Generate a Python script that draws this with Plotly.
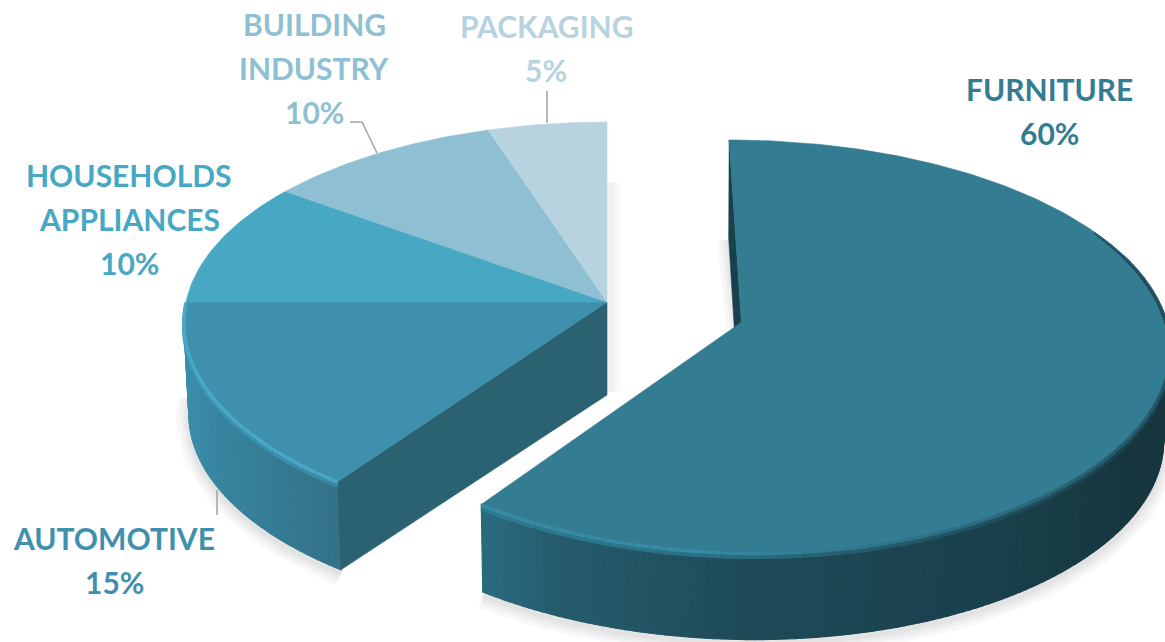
import numpy as np
import plotly.graph_objects as go

CATEGORIES = ["FURNITURE", "AUTOMOTIVE", "HOUSEHOLDS APPLIANCES", "BUILDING INDUSTRY", "PACKAGING"]
VALUES = [60, 15, 10, 10, 5]
TOP_COLORS = ["#337C92", "#3F90AC", "#47A8C4", "#8FBFD2", "#B7D3DF"]
LABEL_LINES = [["FURNITURE"], ["AUTOMOTIVE"], ["HOUSEHOLDS", "APPLIANCES"], ["BUILDING", "INDUSTRY"], ["PACKAGING"]]
PERCENT_TEXT = [f"{v}%" for v in VALUES]

# layout of the projected pie (pixel frame of the figure)
CX, CY, RX, RY, PERSP, PERSP_X = 607, 302, 421, 201, 0.117, 0.10
EXPLODE = [(0.316, -0.10), (0, 0), (0, 0), (0, 0), (0, 0)]
V_SCALE = [0.99, 1, 1, 1, 1]
LABEL_POS = [(1049, [89, 133]), (114, [538, 582]), (129, [175, 219, 263]), (314, [24, 68, 112]), (546, [26, 70])]
LEADERS = [[(217, 490), (217, 515)], [(350, 122), (362, 122), (377, 153)], [(547, 91), (547, 123)]]


def project(u, v, lower=False):
    u, v = np.asarray(u, float), np.asarray(v, float)
    x = CX + RX * u / (1 + PERSP_X * v)
    y = CY - RY * v / (1 + PERSP * v)
    if lower:
        x = x + (CX - x) * 0.012
        y = y + 93 + 6 * v
    return x, y


def rim(i, a0, a1, lower=False, n=None):
    n = n or max(2, int(abs(a1 - a0)) + 2)
    t = np.radians(np.linspace(a0, a1, n))
    return project(np.sin(t) + EXPLODE[i][0], np.cos(t) * V_SCALE[i] + EXPLODE[i][1], lower)


def mix(stops, x):
    xs = [s[0] for s in stops]
    rgb = [[int(s[1][i:i + 2], 16) for s in stops] for i in (1, 3, 5)]
    return "rgb(%d,%d,%d)" % tuple(np.interp(x, xs, c) for c in rgb)


def poly(fig, x, y, color, lw=0.6):
    fig.add_trace(go.Scatter(x=list(x), y=list(y), mode="lines", fill="toself", fillcolor=color,
                             line=dict(color=color, width=lw), hoverinfo="skip", showlegend=False))


def stroke(fig, x, y, color, width):
    fig.add_trace(go.Scatter(x=list(x), y=list(y), mode="lines", line=dict(color=color, width=width),
                             hoverinfo="skip", showlegend=False))


edges = np.cumsum([0] + VALUES) / sum(VALUES) * 360
fig = go.Figure()

SIDE_STOPS = {0: [(480, "#2A6C80"), (560, "#265C6D"), (740, "#1F4B59"), (1000, "#1A414C"), (1150, "#17363E")],
              1: [(185, "#3B8EAB"), (220, "#38849F"), (337, "#347288")]}
BEVEL_STOPS = {0: [(480, "#3A8BA6"), (700, "#378CA5"), (850, "#317A90"), (1000, "#2B6C80"), (1165, "#245868")],
               1: [(185, "#4AA9C7"), (337, "#4AA9C7")]}
SOFT_STOPS = {0: [(480, "#2F7E95"), (700, "#2C7287"), (850, "#285F70"), (1000, "#214F5D"), (1165, "#1B3F4A")],
              1: [(185, "#3F9AB8"), (337, "#3B8BA5")]}
SIDE_SPAN = {0: (70, edges[1]), 1: (edges[1], edges[2])}
BEVEL_SPAN = {0: (62, edges[1]), 1: (edges[1], edges[2])}

# soft shadow under the lower outlines
for i, (a0, a1) in SIDE_SPAN.items():
    x, y = rim(i, a0, a1, lower=True)
    for width in (26, 18, 11, 5):
        stroke(fig, x, y + 4, "rgba(0,0,0,0.028)", width)
sx, sy = rim(0, 0, 0, n=2)
ax, ay = project([EXPLODE[0][0]], [EXPLODE[0][1]])
for width in (18, 10, 4):
    stroke(fig, [sx[0] - 3, ax[0] - 6], [sy[0] + 100, ay[0] + 5], "rgba(0,0,0,0.03)", width)
    stroke(fig, [CX + 4, CX + 4], [CY - 120, CY + 90], "rgba(0,0,0,0.02)", width)

# outer walls
for i, (a0, a1) in SIDE_SPAN.items():
    n = int(a1 - a0) + 1
    tx, ty = rim(i, a0, a1, n=n)
    bx, by = rim(i, a0, a1, lower=True, n=n)
    for j in range(n - 1):
        poly(fig, [tx[j], tx[j + 1], bx[j + 1], bx[j], tx[j]], [ty[j], ty[j + 1], by[j + 1], by[j], ty[j]],
             mix(SIDE_STOPS[i], (tx[j] + tx[j + 1]) / 2), lw=1.2)

# narrow cut face of the pulled slice
ox, oy = EXPLODE[0]
tx, ty = project([ox, ox], [oy + V_SCALE[0], oy])
bx, by = project([ox, ox], [oy + V_SCALE[0], oy], lower=True)
poly(fig, [tx[0], bx[0] + 1, bx[1], tx[1], tx[0]], [ty[0], by[0], by[1], ty[1], ty[0]], "#17414D")

# wide cut face of the left group
t = np.radians(edges[1])
tx, ty = project([0, np.sin(t)], [0, np.cos(t)])
bx, by = project([0, np.sin(t)], [0, np.cos(t)], lower=True)
poly(fig, [tx[0], bx[0], bx[1], tx[1], tx[0]], [ty[0], by[0], by[1], ty[1], ty[0]], "#2A6272")

# top faces
for i, color in enumerate(TOP_COLORS):
    rx_, ry_ = rim(i, edges[i], edges[i + 1])
    px, py = project([EXPLODE[i][0]], [EXPLODE[i][1]])
    poly(fig, [px[0], *rx_, px[0]], [py[0], *ry_, py[0]], color)

# bevel along the front rims: a soft band below a lighter crest
for i, (a0, a1) in BEVEL_SPAN.items():
    x, y = rim(i, a0, a1, n=int(a1 - a0) + 2)
    grow = [np.clip((a0 + j - 62) / 40, 0, 1) if i == 0 else 1 for j in range(len(x))]
    for j in range(len(x) - 1):
        stroke(fig, x[j:j + 2], y[j:j + 2] + 2 + 2 * grow[j], mix(SOFT_STOPS[i], x[j]), 1 + 3 * grow[j])
    for j in range(len(x) - 1):
        stroke(fig, x[j:j + 2], y[j:j + 2] + 0.5, mix(BEVEL_STOPS[i], x[j]), 1.2 + 2.2 * grow[j])

# leader lines
for pts in LEADERS:
    fig.add_shape(type="path", xref="x", yref="y", line=dict(color="#A6A6A6", width=1.6),
                  path="M" + " L".join(f"{a},{b}" for a, b in pts))

# labels
for i, (lx, ys) in enumerate(LABEL_POS):
    for txt, ly in zip(LABEL_LINES[i] + [PERCENT_TEXT[i]], ys):
        fig.add_annotation(x=lx, y=ly, text=f"<b>{txt}</b>", showarrow=False, xanchor="center", yanchor="middle",
                           font=dict(family="Lato", size=30, color=TOP_COLORS[i]))

fig.update_layout(width=1165, height=642, margin=dict(l=0, r=0, t=0, b=0), paper_bgcolor="white",
                  plot_bgcolor="white", showlegend=False,
                  xaxis=dict(range=[0, 1165], visible=False, fixedrange=True),
                  yaxis=dict(range=[642, 0], visible=False, fixedrange=True))
fig.write_html("out.html", config={"displayModeBar": False},
               post_script="document.body.style.margin='0';document.body.style.overflow='hidden';")
